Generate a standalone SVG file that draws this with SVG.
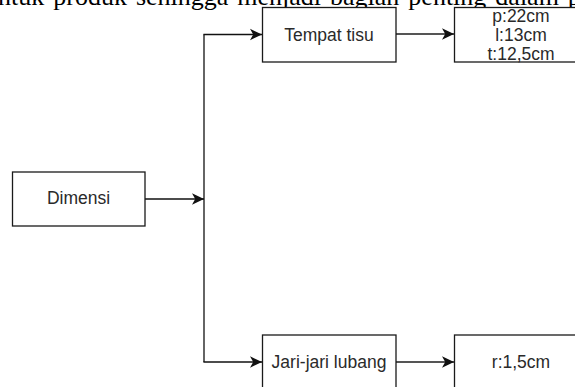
<svg xmlns="http://www.w3.org/2000/svg" width="575" height="387" viewBox="0 0 575 387">
<style>
.box{fill:#fff;stroke:#1a1a1a;stroke-width:1.3}
.lbl{font-family:"Liberation Sans",Arial,sans-serif;font-size:17.5px;fill:#2a2a2a;text-anchor:middle}
.doc{font-family:"Liberation Serif","Times New Roman",serif;font-size:26px;fill:#000;word-spacing:2.5px}
.wire{fill:none;stroke:#111;stroke-width:1.3}
.gwire{fill:none;stroke:#555;stroke-width:2.2}
</style>
<defs>
<marker id="arr" markerUnits="userSpaceOnUse" markerWidth="13" markerHeight="13" viewBox="0 0 13 13" refX="12" refY="6.5" orient="auto">
<path d="M0,0.8 L12,6.5 L0,12.2 L3.2,6.5 z" fill="#111"/>
</marker>
</defs>
<text class="doc" x="-15" y="5">untuk produk sehingga menjadi bagian penting dalam pe</text>
<g id="connectors">
<line class="wire" x1="145" y1="199" x2="204" y2="199" marker-end="url(#arr)"/>
<polyline class="wire" points="204,34.5 204,362"/>
<line class="wire" x1="203.4" y1="34.5" x2="262" y2="34.5" marker-end="url(#arr)"/>
<line class="wire" x1="203.4" y1="362" x2="262" y2="362" marker-end="url(#arr)"/>
<line class="gwire" x1="396" y1="34" x2="454" y2="34" marker-end="url(#arr)"/>
<line class="gwire" x1="396" y1="362" x2="454" y2="362" marker-end="url(#arr)"/>
</g>
<g id="dimensi">
<rect class="box" x="12.5" y="172" width="132.5" height="54"/>
<text class="lbl" x="78.5" y="204">Dimensi</text>
</g>
<g id="tempat-tisu">
<rect class="box" x="262.5" y="7.5" width="133.5" height="54.5"/>
<text class="lbl" x="329" y="40.5">Tempat tisu</text>
</g>
<g id="ukuran-tisu">
<rect class="box" x="454.5" y="7.5" width="133.5" height="54.5"/>
<text class="lbl" x="521" y="21.5">p:22cm</text>
<text class="lbl" x="521" y="40.8">l:13cm</text>
<text class="lbl" x="521" y="60.1">t:12,5cm</text>
</g>
<g id="jari-jari">
<rect class="box" x="262.5" y="335" width="133.5" height="54.5"/>
<text class="lbl" x="329" y="368">Jari-jari lubang</text>
</g>
<g id="ukuran-lubang">
<rect class="box" x="454.5" y="335" width="133.5" height="54.5"/>
<text class="lbl" x="521" y="368">r:1,5cm</text>
</g>
</svg>
